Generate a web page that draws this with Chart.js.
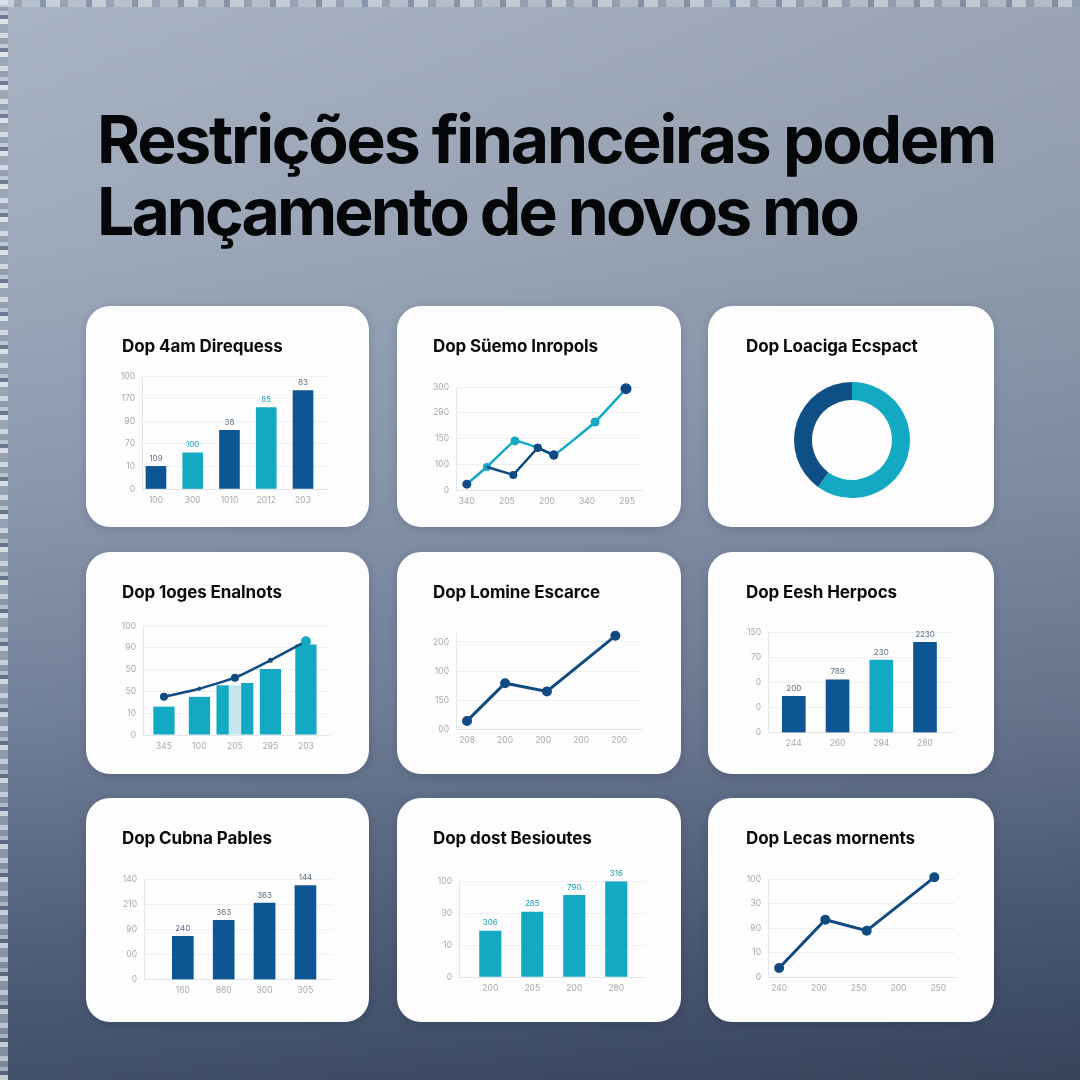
<!DOCTYPE html>
<html><head><meta charset="utf-8">
<script src="https://cdn.jsdelivr.net/npm/chart.js@4.4.1/dist/chart.umd.min.js"></script>
<style>
html,body{margin:0;padding:0;}
body{width:1080px;height:1080px;position:relative;overflow:hidden;font-family:Inter,'Noto Sans',sans-serif;
 background:linear-gradient(90deg,rgba(255,255,255,0.04),rgba(0,0,0,0.07)),
 linear-gradient(180deg,#a5b0c1 0%,#9ba7b9 22%,#8694ab 45%,#6c7b95 66%,#4e5e7a 84%,#394862 100%);}
#stripeL{position:absolute;left:0;top:0;width:8px;height:1080px;opacity:.75;
 background:repeating-linear-gradient(180deg,#e4e8ec 0 5px,#8f9bab 5px 11px,#c9d0d8 11px 15px,#5d6b82 15px 19px,#f1f3f5 19px 24px,#9aa5b4 24px 33px);}
#stripeT{position:absolute;left:0;top:0;width:1080px;height:7px;opacity:.55;
 background:repeating-linear-gradient(90deg,#dfe4ea 0 14px,#8a97a8 14px 22px,#c3cbd5 22px 40px,#6f7d92 40px 46px);}
.tl{position:absolute;left:97px;font-weight:700;font-size:66px;line-height:72px;color:#050608;white-space:nowrap;}
.card{position:absolute;background:#fdfdfe;border-radius:24px;box-shadow:0 2px 8px rgba(20,30,50,0.18);}
.card canvas{position:absolute;left:0;top:0;}
.ct{position:absolute;top:30px;font-weight:700;font-size:17px;line-height:20px;color:#0a0b0d;white-space:nowrap;letter-spacing:-0.1px;}
</style></head>
<body>
<div id="stripeL"></div><div id="stripeT"></div>
<div class="tl" id="l1" style="top:103px">Restrições financeiras podem</div>
<div class="tl" id="l2" style="top:175px">Lançamento de novos mo</div>
<script>
// ---------- data ----------
const titles = ['Dop 4am Direquess','Dop Süemo Inropols','Dop Loaciga Ecspact','Dop 1oges Enalnots','Dop Lomine Escarce','Dop Eesh Herpocs','Dop Cubna Pables','Dop dost Besioutes','Dop Lecas mornents'];

const c1Cats = ['100','300','1010','2012','203'];
const c1YTicks = ['0','10','70','90','170','100'];
const c1Vals = [20, 32, 52, 72, 87];
const c1Labels = ['109','100','38','85','83'];

const c2Cats = ['340','205','200','340','295'];
const c2YTicks = ['0','100','150','290','300'];
const c2TealX = [0, 0.5, 1.2, 1.77, 2.17, 3.2, 3.97];
const c2TealY = [17, 67, 143, 123, 102, 198, 295];
const c2NavyX = [0.5, 1.16, 1.77, 2.17];
const c2NavyY = [67, 44, 123, 102];

const c3Labels = ['Ecspact','Loaciga'];
const c3Vals = [60, 40];

const c4Cats = ['345','100','205','295','203'];
const c4YTicks = ['0','10','50','50','90','100'];
const c4Bars = [26, 35, null, 60.5, 83];
const c4ClusterA = [null, null, 45.6, null, null];
const c4ClusterLight = [null, null, 45.6, null, null];
const c4ClusterB = [null, null, 47.7, null, null];
const c4Line = [35, 42.5, 52.6, 68.5, 86];

const c5Cats = ['208','200','200','200','200'];
const c5YTicks = ['00','150','100','200'];
const c5X = [0, 1, 2.1, 3.9];
const c5Y = [30, 159, 131, 321];

const c6Cats = ['244','260','294','280'];
const c6YTicks = ['0','0','0','70','150'];
const c6Vals = [36, 52.6, 72, 89.7];
const c6Labels = ['200','789','230','2230'];

const c7Cats = ['160','860','300','305'];
const c7YTicks = ['0','00','90','210','140'];
const c7Vals = [43, 59, 76, 93.4];
const c7Labels = ['240','363','363','144'];

const c8Cats = ['200','205','200','280'];
const c8YTicks = ['0','10','30','100'];
const c8Vals = [43.3, 61.1, 76.9, 89.7];
const c8Labels = ['306','285','790','316'];

const c9Cats = ['240','200','250','200','250'];
const c9YTicks = ['0','10','90','30','100'];
const c9X = [0, 1.16, 2.2, 3.9];
const c9Y = [9.5, 58.6, 47.4, 101.7];

// ---------- style / layout ----------
const NAVY = '#0e5593', TEAL = '#13a9c3', LNAVY = '#0f4a80', LIGHT = '#c6e6ee';
const tickColor = '#a4a9af', gridColor = '#eef0f2', borderColor = '#e3e6e9';
const LBL_GRAY = '#5f7184', LBL_TEAL = '#1aa0b8';
const Y_W = 30, X_H = 20;

const cards = [
  [86,306,283,221],[397,306,284,221],[708,306,286,221],
  [86,552,283,222],[397,552,284,222],[708,552,286,222],
  [86,798,283,224],[397,798,284,224],[708,798,286,224]
];

Chart.defaults.font.family = 'Inter';
Chart.defaults.animation = false;

function makeCard(i) {
  const [x,y,w,h] = cards[i];
  const d = document.createElement('div'); d.className = 'card';
  Object.assign(d.style, {left:x+'px', top:y+'px', width:w+'px', height:h+'px'});
  const c = document.createElement('canvas'); c.width = w; c.height = h;
  const t = document.createElement('div'); t.className = 'ct'; t.textContent = titles[i];
  t.style.left = (i % 3 === 2 ? 38 : 36) + 'px';
  d.appendChild(c); d.appendChild(t); document.body.appendChild(d);
  return c;
}
function padFor(i, area) {
  const [x,y,w,h] = cards[i];
  return {left: area[0]-x-Y_W, top: area[1]-y, right: x+w-area[2], bottom: y+h-area[3]-X_H};
}
function scales(o) {
  const yStep = o.yStep || o.yMax / (o.yTicks.length - 1);
  return {
    x: {type:'linear', min:o.xMin, max:o.xMax, offset:false,
      afterBuildTicks: s => { s.ticks = o.cats.map((_, k) => ({value:k})); },
      afterFit: s => { s.height = X_H; },
      ticks: {autoSkip:false, maxRotation:0, padding:6, color:tickColor, font:{size:8.5}, callback:(v,k) => o.cats[k]},
      grid: {display:false, drawTicks:false, offset:false},
      border: {display:true, color:borderColor, width:1}},
    y: {type:'linear', min:0, max:o.yMax,
      afterBuildTicks: s => { s.ticks = o.yTicks.map((_, k) => ({value:k*yStep})); },
      afterFit: s => { s.width = Y_W; },
      ticks: {padding:7, color:tickColor, font:{size:8.5}, callback:(v,k) => o.yTicks[k]},
      grid: {color:gridColor, drawTicks:false},
      border: {display:true, color:borderColor, width:1}}
  };
}
const barLabels = {
  id: 'barLabels',
  afterDatasetsDraw(chart, args, opts) {
    if (!opts || !opts.labels) return;
    const ctx = chart.ctx, meta = chart.getDatasetMeta(0);
    ctx.save();
    ctx.font = '8px Inter'; ctx.textAlign = 'center'; ctx.textBaseline = 'middle';
    meta.data.forEach((bar, k) => {
      ctx.fillStyle = Array.isArray(opts.color) ? opts.color[k] : opts.color;
      ctx.fillText(opts.labels[k], bar.x, bar.y - 8);
    });
    ctx.restore();
  }
};
const basePlugins = {legend:{display:false}, tooltip:{enabled:false}};
const pts = (xs, ys) => xs.map((x, k) => ({x, y: ys[k]}));
const idx = ys => ys.map((y, k) => ({x:k, y}));

function simpleBar(i, area, o, vals, colors, labels, lblColor, thick) {
  new Chart(makeCard(i), {
    type:'bar',
    data:{datasets:[{data:idx(vals), backgroundColor:colors, barThickness:thick, borderWidth:0}]},
    options:{responsive:false, events:[], layout:{padding:padFor(i, area)},
      scales:scales(o), plugins:Object.assign({barLabels:{labels, color:lblColor}}, basePlugins)},
    plugins:[barLabels]
  });
}

// 1
simpleBar(0, [142,376,328,489], {cats:c1Cats, yTicks:c1YTicks, yMax:100, xMin:-0.38, xMax:4.68},
  c1Vals, [NAVY,TEAL,NAVY,TEAL,NAVY], c1Labels, [LBL_GRAY,LBL_TEAL,LBL_GRAY,LBL_TEAL,LBL_GRAY], 20);

// 2
new Chart(makeCard(1), {
  type:'line',
  data:{datasets:[
    {data:pts(c2NavyX,c2NavyY), borderColor:LNAVY, borderWidth:2.5, tension:0, pointRadius:[0,4,4,4.5],
     pointBackgroundColor:LNAVY, pointBorderWidth:0, clip:false},
    {data:pts(c2TealX,c2TealY), borderColor:TEAL, borderWidth:2.5, tension:0.1, pointRadius:[4.5,4,4.5,4,4.5,4.5,5.5],
     pointBackgroundColor:[LNAVY,TEAL,TEAL,LNAVY,LNAVY,TEAL,LNAVY], pointBorderWidth:0, clip:false}
  ]},
  options:{responsive:false, events:[], layout:{padding:padFor(1,[456,387,642,490])},
    scales:scales({cats:c2Cats, yTicks:c2YTicks, yMax:300, xMin:-0.27, xMax:4.37}), plugins:basePlugins}
});

// 3
(function(){
  const [x,y,w,h] = cards[2];
  new Chart(makeCard(2), {
    type:'doughnut',
    data:{labels:c3Labels, datasets:[{data:c3Vals, backgroundColor:[TEAL,'#0e4f86'], borderWidth:0}]},
    options:{responsive:false, events:[], cutout:'69%',
      layout:{padding:{left:794-x, right:x+w-910, top:382-y, bottom:y+h-498}}, plugins:basePlugins}
  });
})();

// 4
new Chart(makeCard(3), {
  type:'bar',
  data:{datasets:[
    {type:'line', data:idx(c4Line), borderColor:LNAVY, borderWidth:2.5, tension:0.15, order:0,
     pointRadius:[4,2,4,2.5,5], pointBackgroundColor:[LNAVY,LNAVY,LNAVY,LNAVY,TEAL], pointBorderWidth:0, clip:false},
    {data:idx(c4Bars), backgroundColor:TEAL, order:1, categoryPercentage:0.6, barPercentage:1, skipNull:true, borderWidth:0},
    {data:idx(c4ClusterA), backgroundColor:TEAL, order:1, categoryPercentage:1.04, barPercentage:1, skipNull:true, borderWidth:0},
    {data:idx(c4ClusterLight), backgroundColor:LIGHT, order:1, categoryPercentage:1.04, barPercentage:1, skipNull:true, borderWidth:0},
    {data:idx(c4ClusterB), backgroundColor:TEAL, order:1, categoryPercentage:1.04, barPercentage:1, skipNull:true, borderWidth:0}
  ]},
  options:{responsive:false, events:[], layout:{padding:padFor(3,[143,626,329,735])},
    scales:scales({cats:c4Cats, yTicks:c4YTicks, yMax:100, xMin:-0.59, xMax:4.65}), plugins:basePlugins}
});

// 5 (axis extends slightly above the top tick so the last point stays inside)
new Chart(makeCard(4), {
  type:'line',
  data:{datasets:[{data:pts(c5X,c5Y), borderColor:LNAVY, borderWidth:3, tension:0, pointRadius:5,
    pointBackgroundColor:LNAVY, pointBorderWidth:0, clip:false}]},
  options:{responsive:false, events:[], layout:{padding:padFor(4,[456,633.2,642,729.7])},
    scales:scales({cats:c5Cats, yTicks:c5YTicks, yMax:330, yStep:100, xMin:-0.29, xMax:4.6}), plugins:basePlugins}
});

// 6
simpleBar(5, [768,632,953,732.7], {cats:c6Cats, yTicks:c6YTicks, yMax:100, xMin:-0.59, xMax:3.64},
  c6Vals, [NAVY,NAVY,TEAL,NAVY], c6Labels, LBL_GRAY, 23);

// 7
simpleBar(6, [144,879,332,979.7], {cats:c7Cats, yTicks:c7YTicks, yMax:100, xMin:-0.95, xMax:3.65},
  c7Vals, NAVY, c7Labels, LBL_GRAY, 21);

// 8
simpleBar(7, [459,881.3,644,977], {cats:c8Cats, yTicks:c8YTicks, yMax:90, xMin:-0.745, xMax:3.66},
  c8Vals, TEAL, c8Labels, LBL_TEAL, 21.5);

// 9
new Chart(makeCard(8), {
  type:'line',
  data:{datasets:[{data:pts(c9X,c9Y), borderColor:LNAVY, borderWidth:3, tension:0, pointRadius:5,
    pointBackgroundColor:LNAVY, pointBorderWidth:0, clip:false}]},
  options:{responsive:false, events:[], layout:{padding:padFor(8,[768,879,955,977.3])},
    scales:scales({cats:c9Cats, yTicks:c9YTicks, yMax:100, xMin:-0.28, xMax:4.42}), plugins:basePlugins}
});

// title fit
(function(){
  const fit = (el, target) => {
    const w = el.getBoundingClientRect().width;
    el.style.letterSpacing = ((target - w) / el.textContent.length) + 'px';
  };
  fit(document.getElementById('l1'), 898);
  fit(document.getElementById('l2'), 760);
})();
</script>
</body></html>
